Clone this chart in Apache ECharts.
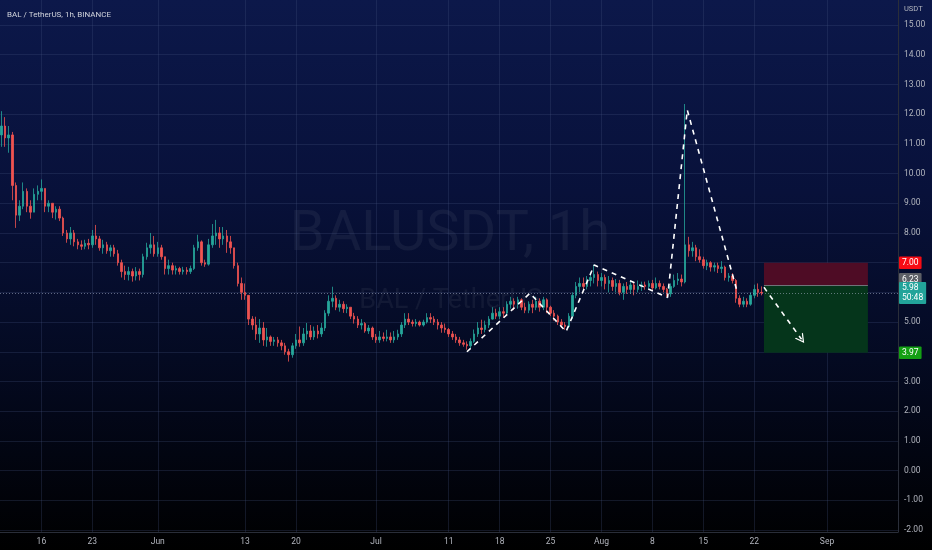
<!DOCTYPE html>
<html><head><meta charset="utf-8">
<script src="https://cdn.jsdelivr.net/npm/echarts@6/dist/echarts.min.js"></script>
<style>html,body{margin:0;padding:0;background:#000}#c{width:932px;height:550px}</style>
</head><body><div id="c"></div>
<script>
// ---- data ----
const startTime = '2022-05-10T12:00:00Z';   // first candle
const stepHours = 12;                        // candle period (aggregated from the 1h chart)
// [open, close, low, high]
const ohlc = [
[11.3,11.6,10.9,12.1],[11.6,11.2,10.9,11.9],[11.2,11.3,10.7,11.6],[11.3,9.6,9.1,11.4],[9.6,8.6,8.17,9.7],
[8.6,8.9,8.4,9.1],[8.9,9.4,8.8,9.7],[9.4,8.9,8.7,9.5],[8.9,8.7,8.48,9.1],[8.7,9.3,8.7,9.5],
[9.3,9.4,9.1,9.6],[9.4,9.5,9.1,9.8],[9.5,8.9,8.7,9.5],[8.9,9.0,8.7,9.1],[9.0,8.7,8.5,9.0],
[8.7,8.8,8.45,8.9],[8.8,8.5,8.4,8.9],[8.5,8.0,7.9,8.55],[8.0,7.8,7.67,8.1],[7.8,8.0,7.6,8.2],
[8.0,7.7,7.55,8.1],[7.7,7.6,7.45,7.8],[7.6,7.55,7.43,7.75],[7.55,7.65,7.45,7.77],[7.65,7.6,7.45,7.8],
[7.6,7.9,7.5,8.1],[7.9,7.8,7.6,8.27],[7.8,7.5,7.4,7.9],[7.5,7.6,7.3,7.77],[7.6,7.4,7.3,7.7],
[7.4,7.5,7.2,7.6],[7.5,7.3,7.2,7.6],[7.3,7.0,6.9,7.43],[7.0,6.7,6.5,7.1],[6.7,6.6,6.42,6.9],
[6.6,6.7,6.4,6.86],[6.7,6.55,6.36,6.8],[6.55,6.7,6.4,6.85],[6.7,6.6,6.4,6.8],[6.6,7.2,6.5,7.3],
[7.2,7.5,7.1,7.67],[7.5,7.6,7.3,8.0],[7.6,7.3,7.2,7.9],[7.3,7.5,7.2,7.7],[7.5,7.2,7.1,7.6],
[7.2,6.8,6.6,7.2],[6.8,6.9,6.6,7.1],[6.9,6.75,6.6,7.0],[6.75,6.8,6.6,6.9],[6.8,6.7,6.6,6.86],
[6.7,6.75,6.6,6.86],[6.75,6.7,6.6,6.85],[6.7,6.8,6.62,6.9],[6.8,7.5,6.75,7.6],[7.5,7.7,7.4,7.94],
[7.7,7.0,6.9,7.75],[7.0,6.95,6.86,7.1],[6.95,7.6,6.9,7.8],[7.6,7.9,7.5,8.3],[7.9,8.0,7.6,8.44],
[8.0,7.8,7.5,8.2],[7.8,7.9,7.6,8.2],[7.9,7.7,7.33,8.1],[7.7,7.5,7.3,7.9],[7.5,6.9,6.8,7.5],
[6.9,6.3,6.2,7.0],[6.3,6.0,5.75,6.5],[6.0,5.9,5.75,6.3],[5.9,5.1,4.9,5.9],[5.1,4.9,4.74,5.2],
[4.9,4.6,4.4,5.18],[4.6,4.8,4.3,5.1],[4.8,4.4,4.2,5.0],[4.4,4.5,4.17,4.8],[4.5,4.35,4.2,4.55],
[4.35,4.4,4.2,4.5],[4.4,4.3,4.17,4.5],[4.3,4.2,4.05,4.4],[4.2,4.0,3.9,4.3],[4.0,3.9,3.67,4.1],
[3.9,4.2,3.8,4.3],[4.2,4.4,4.1,4.6],[4.4,4.3,4.17,4.85],[4.3,4.6,4.2,4.8],[4.6,4.7,4.4,4.97],
[4.7,4.5,4.4,4.9],[4.5,4.7,4.4,4.85],[4.7,4.6,4.45,4.9],[4.6,4.8,4.5,4.97],[4.8,5.3,4.7,5.4],
[5.3,5.7,5.2,5.9],[5.7,5.8,5.5,6.19],[5.8,5.5,5.4,5.9],[5.5,5.6,5.35,5.75],[5.6,5.45,5.31,5.7],
[5.45,5.5,5.3,5.6],[5.5,5.2,5.1,5.5],[5.2,5.1,4.95,5.31],[5.1,4.9,4.8,5.2],[4.9,4.95,4.75,5.1],
[4.95,4.7,4.64,5.0],[4.7,4.8,4.6,4.9],[4.8,4.5,4.4,4.85],[4.5,4.4,4.3,4.6],[4.4,4.5,4.3,4.7],
[4.5,4.45,4.35,4.65],[4.45,4.5,4.35,4.74],[4.5,4.4,4.3,4.65],[4.4,4.5,4.3,4.7],[4.5,4.6,4.4,4.74],
[4.6,4.9,4.5,5.0],[4.9,5.1,4.8,5.3],[5.1,5.0,4.9,5.3],[5.0,4.95,4.85,5.08],[4.95,5.0,4.85,5.1],
[5.0,4.9,4.85,5.05],[4.9,5.0,4.85,5.08],[5.0,5.15,4.95,5.3],[5.15,5.1,4.97,5.3],[5.1,5.0,4.9,5.2],
[5.0,4.9,4.75,5.1],[4.9,4.8,4.64,5.0],[4.8,4.75,4.64,4.95],[4.75,4.6,4.5,4.8],[4.6,4.5,4.4,4.7],
[4.5,4.4,4.3,4.6],[4.4,4.3,4.2,4.5],[4.3,4.25,4.17,4.4],[4.25,4.2,4.07,4.35],[4.2,4.35,4.1,4.45],
[4.35,4.6,4.3,4.75],[4.6,4.8,4.5,5.0],[4.8,4.75,4.6,5.08],[4.75,4.9,4.65,5.05],[4.9,5.1,4.8,5.2],
[5.1,5.3,5.08,5.5],[5.3,5.2,5.1,5.45],[5.2,5.35,5.1,5.5],[5.35,5.3,5.15,5.5],[5.3,5.6,5.25,5.7],
[5.6,5.7,5.45,5.85],[5.7,5.6,5.4,5.8],[5.6,5.75,5.45,5.85],[5.75,5.5,5.4,5.8],[5.5,5.4,5.3,5.65],
[5.4,5.6,5.3,5.7],[5.6,5.5,5.3,5.75],[5.5,5.7,5.4,5.85],[5.7,5.5,5.35,5.8],[5.5,5.75,5.4,5.85],
[5.75,5.5,5.3,5.8],[5.5,5.3,5.2,5.55],[5.3,5.2,5.05,5.4],[5.2,5.0,4.9,5.25],[5.0,4.9,4.8,5.1],
[4.9,4.85,4.74,5.0],[4.85,5.2,4.8,5.3],[5.2,5.9,5.1,6.0],[5.9,6.2,5.8,6.35],[6.2,6.3,6.0,6.5],
[6.3,6.2,6.05,6.5],[6.2,6.4,6.1,6.55],[6.4,6.5,6.2,6.65],[6.5,6.6,6.3,6.93],[6.6,6.4,6.2,6.7],
[6.4,6.5,6.2,6.65],[6.5,6.3,6.1,6.6],[6.3,6.4,6.0,6.55],[6.4,6.2,6.05,6.5],[6.2,6.3,6.0,6.45],
[6.3,6.0,5.9,6.42],[6.0,6.2,5.75,6.3],[6.2,6.1,5.95,6.35],[6.1,6.25,5.95,6.4],[6.25,6.1,5.9,6.35],
[6.1,6.2,6.0,6.4],[6.2,6.25,6.05,6.36],[6.25,6.2,6.09,6.36],[6.2,6.3,6.1,6.4],[6.3,6.15,6.05,6.42],
[6.15,6.3,6.1,6.5],[6.3,6.2,6.1,6.4],[6.2,6.1,6.0,6.3],[6.1,5.95,5.85,6.15],[5.95,6.2,5.85,6.3],
[6.2,6.4,6.15,6.6],[6.4,6.45,6.25,6.65],[6.45,6.35,6.2,6.6],[6.35,7.6,6.3,12.34],[7.6,7.4,7.2,7.87],
[7.4,7.5,7.2,7.7],[7.5,7.2,7.05,7.6],[7.2,7.1,7.0,7.45],[7.1,6.9,6.8,7.2],[6.9,7.0,6.75,7.1],
[7.0,6.85,6.7,7.05],[6.85,6.9,6.7,7.0],[6.9,6.8,6.65,7.0],[6.8,6.85,6.65,7.05],[6.85,6.5,6.4,6.9],
[6.5,6.55,6.36,6.65],[6.55,6.4,6.3,6.65],[6.4,5.8,5.65,6.45],[5.8,5.6,5.5,5.9],[5.6,5.7,5.5,5.85],
[5.7,5.6,5.5,5.8],[5.6,5.9,5.55,6.0],[5.9,6.1,5.8,6.26],[6.1,6.0,5.85,6.3],[6.0,5.98,5.9,6.2]
];
const xTickDates = ['2022-05-16','2022-05-23','2022-06-01','2022-06-13','2022-06-20','2022-07-01','2022-07-11','2022-07-18','2022-07-25','2022-08-01','2022-08-08','2022-08-15','2022-08-22','2022-09-01'];
const xTickLabels = ['16','23','Jun','13','20','Jul','11','18','25','Aug','8','15','22','Sep'];
const yTicks = [-2,-1,0,1,2,3,4,5,6,7,8,9,10,11,12,13,14,15];
const yTickLabelsShown = [-2,-1,0,1,2,3,5,8,9,10,11,12,13,14,15]; // 4, 6, 7 hidden behind price tags
const xRange = ['2022-05-10T07:25:00Z','2022-09-10T18:15:00Z'];
const yRange = [-2.067, 15.842];
// hand-drawn dashed path
const drawPath = [
  ['2022-07-13T12:00:00Z',4.00],['2022-07-22T04:00:00Z',5.97],['2022-07-27T03:00:00Z',4.68],
  ['2022-07-31T00:00:00Z',6.92],['2022-08-10T02:00:00Z',5.83],['2022-08-12T19:00:00Z',12.14],
  ['2022-08-19T14:00:00Z',6.08]
];
const arrowFrom = ['2022-08-23T08:00:00Z',6.17];
const arrowTo = ['2022-08-28T12:00:00Z',4.42];
// short position tool
const positionStart = '2022-08-23T08:00:00Z';
const positionEnd = '2022-09-06T15:00:00Z';
const stopPrice = 7.00, entryPrice = 6.23, targetPrice = 3.97, lastPrice = 5.98;
const countdown = '50:48';
const titleText = 'BAL / TetherUS, 1h, BINANCE';
const watermark1 = 'BALUSDT, 1h', watermark2 = 'BAL / TetherUS';
const unitText = 'USDT';

// ---- build ----
const T = s => Date.parse(s);
const t0 = T(startTime);
const candleData = ohlc.map((d, i) => [t0 + i * stepHours * 3600e3, d[0], d[1], d[2], d[3]]);
const xTicks = xTickDates.map(d => T(d + 'T00:00:00Z'));
const FONT = 'Roboto, "Liberation Sans", sans-serif';
const gridCol = 'rgba(70,82,125,0.28)';
const HIDDEN = {color: 'rgba(0,0,0,0)', width: 0};

const priceLabel = (txt, bg, vAlign) => ({
  show: true, position: 'end', distance: 1, formatter: txt,
  backgroundColor: bg, color: '#ffffff', fontSize: 8.5, fontFamily: FONT,
  padding: [2, 3, 1, 3], lineHeight: 9.5, borderRadius: 1,
  verticalAlign: vAlign || 'middle'
});

const chart = echarts.init(document.getElementById('c'), null, {renderer: 'canvas'});
chart.setOption({
  animation: false,
  backgroundColor: {type: 'linear', x: 0, y: 0, x2: 0, y2: 1, colorStops: [
    {offset: 0, color: '#0c184a'}, {offset: 0.35, color: '#08113a'},
    {offset: 0.65, color: '#040a22'}, {offset: 1, color: '#000000'}]},
  title: {text: titleText, left: 2, top: 6, textStyle: {color: '#d1d4dc', fontSize: 8, fontWeight: 'normal', fontFamily: FONT}},
  grid: {left: 0, right: 34, top: 0, bottom: 18, containLabel: false},
  graphic: [
    {type: 'text', x: 450, y: 236, z: 0, silent: true,
      style: {text: watermark1, fill: 'rgba(255,255,255,0.055)', font: '56px ' + FONT, textAlign: 'center', textVerticalAlign: 'middle'}},
    {type: 'text', x: 451, y: 301, z: 0, silent: true,
      style: {text: watermark2, fill: 'rgba(255,255,255,0.055)', font: '27px ' + FONT, textAlign: 'center', textVerticalAlign: 'middle'}},
    {type: 'text', x: 904, y: 5, silent: true,
      style: {text: unitText, fill: '#b2b5be', font: '7.5px ' + FONT}}
  ],
  xAxis: {
    type: 'value', min: T(xRange[0]), max: T(xRange[1]),
    axisLine: {show: true, onZero: false, lineStyle: {color: '#2a2e39'}},
    axisTick: {show: false, customValues: xTicks},
    splitLine: {show: true, lineStyle: {color: gridCol, width: 1}},
    axisLabel: {customValues: xTicks, color: '#b2b5be', fontSize: 8.5, fontFamily: FONT, margin: 5,
      formatter: v => { const i = xTicks.indexOf(v); return i >= 0 ? xTickLabels[i] : ''; }}
  },
  yAxis: {
    type: 'value', position: 'right', min: yRange[0], max: yRange[1],
    axisLine: {show: true, lineStyle: {color: '#2a2e39'}},
    axisTick: {show: false, customValues: yTicks},
    splitLine: {show: true, lineStyle: {color: gridCol, width: 1}},
    axisLabel: {customValues: yTickLabelsShown, color: '#b2b5be', fontSize: 8.5, fontFamily: FONT, margin: 6,
      formatter: v => v.toFixed(2)}
  },
  series: [
    {
      type: 'candlestick', name: 'BALUSDT', data: candleData,
      encode: {x: 0, y: [1, 2, 3, 4]}, barWidth: 2, z: 3,
      itemStyle: {color: '#26a69a', color0: '#ef5350', borderColor: '#26a69a', borderColor0: '#ef5350', borderWidth: 0.8},
      markLine: {
        silent: true, symbol: 'none', animation: false,
        data: [
          {yAxis: stopPrice, lineStyle: HIDDEN, label: priceLabel(stopPrice.toFixed(2), '#f70b14')},
          {yAxis: entryPrice, lineStyle: HIDDEN, label: priceLabel(entryPrice.toFixed(2), '#5d5f66', 'bottom')},
          {yAxis: lastPrice, lineStyle: {color: 'rgba(170,178,200,0.55)', type: [1, 2], width: 1},
            label: priceLabel(lastPrice.toFixed(2) + '\n' + countdown, '#22a39a')},
          {yAxis: targetPrice, lineStyle: HIDDEN, label: priceLabel(targetPrice.toFixed(2), '#14a014')}
        ]
      }
    },
    {
      type: 'line', name: 'drawing', z: 5, symbol: 'none', showSymbol: false,
      data: drawPath.map(p => [T(p[0]), p[1]]),
      lineStyle: {color: '#ffffff', width: 1.6, type: [5, 5]},
      markArea: {
        silent: true, z: 1,
        data: [
          [{coord: [T(positionStart), stopPrice], itemStyle: {color: '#4e0c25'}}, {coord: [T(positionEnd), entryPrice]}],
          [{coord: [T(positionStart), entryPrice], itemStyle: {color: '#05351b'}}, {coord: [T(positionEnd), targetPrice]}]
        ]
      },
      markLine: {
        silent: true, animation: false, label: {show: false},
        data: [
          [{coord: [T(positionStart), entryPrice], symbol: 'none', lineStyle: {color: 'rgba(150,150,160,0.7)', width: 1, type: 'solid'}},
           {coord: [T(positionEnd), entryPrice], symbol: 'none'}],
          [{coord: [T(arrowFrom[0]), arrowFrom[1]], symbol: 'none', lineStyle: {color: '#ffffff', width: 1.6, type: [5, 5]}},
           {coord: [T(arrowTo[0]), arrowTo[1]], symbol: 'path://M0,10 L5,0 L10,10 L8.6,10 L5,2.8 L1.4,10 Z', symbolSize: [10, 9]}]
        ]
      }
    }
  ]
});
</script></body></html>
